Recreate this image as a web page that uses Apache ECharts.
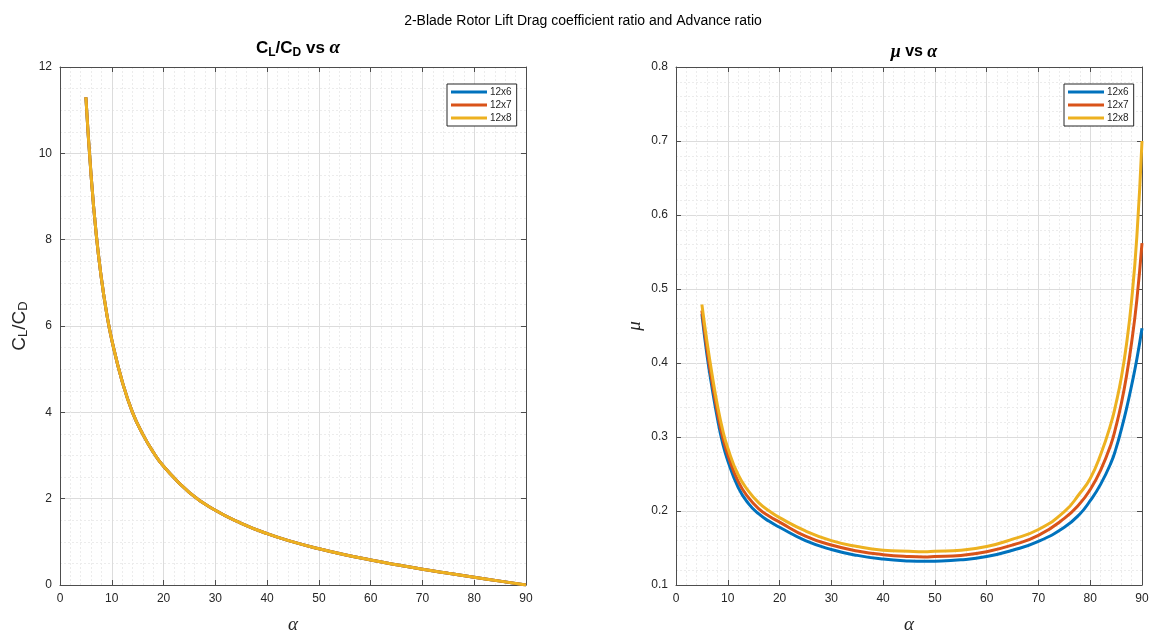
<!DOCTYPE html>
<html><head><meta charset="utf-8">
<script src="https://cdn.jsdelivr.net/npm/echarts@6/dist/echarts.min.js"></script>
<style>html,body{margin:0;padding:0;background:#fff}#c{width:1157px;height:639px}</style>
</head><body><div id="c"></div>
<script>
// ---- data ----
const seriesNames = ['12x6', '12x7', '12x8'];
const colors = ['#0072BD', '#D95319', '#EDB120'];
const xTicks = [0, 10, 20, 30, 40, 50, 60, 70, 80, 90];
const yTicksLeft = [0, 2, 4, 6, 8, 10, 12];
const yTicksRight = [0.1, 0.2, 0.3, 0.4, 0.5, 0.6, 0.7, 0.8];

const alphaL = [5, 6, 7, 8, 9, 10, 12, 14, 16, 18, 20, 25, 30, 35, 40, 45, 50, 55, 60, 65, 70, 75, 80, 85, 90];
const clcd   = [11.3, 9.5, 8.12, 7.1, 6.3, 5.68, 4.72, 4.0, 3.49, 3.08, 2.75, 2.14, 1.73, 1.43, 1.19, 1.0, 0.84, 0.70, 0.58, 0.47, 0.365, 0.27, 0.18, 0.09, 0.0];

const alphaR = [5, 6, 7, 8, 9, 10, 12, 14, 16, 18, 20, 25, 30, 35, 40, 45, 48, 50, 55, 60, 65, 70, 75, 78, 80, 82, 84, 85, 86, 87, 88, 89, 90];
const mu12x6 = [0.466, 0.41, 0.365, 0.325, 0.292, 0.268, 0.232, 0.210, 0.196, 0.186, 0.178, 0.160, 0.148, 0.140, 0.135, 0.1325, 0.132, 0.1322, 0.134, 0.1385, 0.147, 0.159, 0.178, 0.196, 0.214, 0.236, 0.265, 0.285, 0.31, 0.338, 0.37, 0.405, 0.447];
const mu12x7 = [0.471, 0.418, 0.373, 0.333, 0.300, 0.276, 0.240, 0.218, 0.203, 0.193, 0.185, 0.166, 0.154, 0.146, 0.141, 0.1385, 0.138, 0.1385, 0.140, 0.145, 0.154, 0.167, 0.190, 0.210, 0.229, 0.255, 0.29, 0.315, 0.345, 0.382, 0.428, 0.485, 0.562];
const mu12x8 = [0.479, 0.428, 0.383, 0.343, 0.310, 0.285, 0.249, 0.227, 0.211, 0.200, 0.191, 0.173, 0.160, 0.152, 0.147, 0.1455, 0.145, 0.1457, 0.147, 0.152, 0.162, 0.175, 0.199, 0.224, 0.244, 0.276, 0.318, 0.346, 0.38, 0.425, 0.485, 0.57, 0.70];
const muSeries = [mu12x6, mu12x7, mu12x8];

// ---- chart ----
const FONT = '"Liberation Sans", Arial, sans-serif';
const TXT = '#262626';
const AX = '#4d4d4d';
const chart = echarts.init(document.getElementById('c'), null, {renderer: 'canvas'});
const zip = (xs, ys) => xs.map((x, i) => [x, ys[i]]);

function mainX(grid, name) {
  return {
    type: 'value', gridIndex: grid, min: xTicks[0], max: xTicks[xTicks.length - 1], interval: 10,
    name: name, nameLocation: 'middle', nameGap: 30,
    nameTextStyle: {fontFamily: '"Liberation Serif", "DejaVu Serif", serif', fontStyle: 'italic', fontSize: 19, color: TXT},
    axisLine: {show: true, onZero: false, lineStyle: {color: AX, width: 1}},
    axisTick: {show: true, inside: true, length: 5, lineStyle: {color: AX}},
    axisLabel: {fontFamily: FONT, fontSize: 12, color: TXT, margin: 8},
    splitLine: {show: true, lineStyle: {color: '#dcdcdc', width: 1}},
    minorTick: {show: true, splitNumber: 5, length: 0},
    minorSplitLine: {show: true, lineStyle: {color: '#ececec', width: 1, type: [2, 2]}}
  };
}
function topX(grid) {
  return {
    type: 'value', gridIndex: grid, position: 'top', min: 0, max: 90, interval: 10,
    axisLine: {show: true, onZero: false, lineStyle: {color: AX}},
    axisTick: {show: true, inside: true, length: 5, lineStyle: {color: AX}},
    axisLabel: {show: false}, splitLine: {show: false}
  };
}
function mainY(grid, min, max, interval, minorSplit, name, fmt) {
  return {
    type: 'value', gridIndex: grid, min: min, max: max, interval: interval,
    name: name, nameLocation: 'middle', nameRotate: 90,
    axisLine: {show: true, onZero: false, lineStyle: {color: AX, width: 1}},
    axisTick: {show: true, inside: true, length: 5, lineStyle: {color: AX}},
    axisLabel: {fontFamily: FONT, fontSize: 12, color: TXT, margin: 8, formatter: fmt},
    splitLine: {show: true, lineStyle: {color: '#dcdcdc', width: 1}},
    minorTick: {show: true, splitNumber: minorSplit, length: 0},
    minorSplitLine: {show: true, lineStyle: {color: '#ececec', width: 1, type: [2, 2]}}
  };
}
function rightY(grid, min, max, interval) {
  return {
    type: 'value', gridIndex: grid, position: 'right', min: min, max: max, interval: interval,
    axisLine: {show: true, onZero: false, lineStyle: {color: AX}},
    axisTick: {show: true, inside: true, length: 5, lineStyle: {color: AX}},
    axisLabel: {show: false}, splitLine: {show: false}
  };
}

const yL = mainY(0, 0, 12, 2, 4, '{n|C}{ns|L}{n|/C}{ns|D}', v => String(v));
yL.nameGap = 30;
yL.nameTextStyle = {color: TXT, rich: {
  n: {fontFamily: FONT, fontSize: 19, color: TXT},
  ns: {fontFamily: FONT, fontSize: 13, color: TXT, padding: [8, 0, 0, 0]}
}};
const yR = mainY(1, 0.1, 0.8, 0.1, 5, 'μ', v => String(Math.round(v * 10) / 10));
yR.nameGap = 32;
yR.nameTextStyle = {fontFamily: '"Liberation Serif", "DejaVu Serif", serif', fontStyle: 'italic', fontSize: 19, color: TXT};

const series = [];
seriesNames.forEach((n, i) => {
  series.push({name: n, type: 'line', xAxisIndex: 0, yAxisIndex: 0, data: zip(alphaL, clcd),
    smooth: 0.5, showSymbol: false, symbol: 'none', lineStyle: {width: 3, color: colors[i]}, itemStyle: {color: colors[i]}, z: 3 + i});
});
seriesNames.forEach((n, i) => {
  series.push({name: n, type: 'line', xAxisIndex: 2, yAxisIndex: 2, data: zip(alphaR, muSeries[i]),
    smooth: 0.5, showSymbol: false, symbol: 'none', lineStyle: {width: 3, color: colors[i]}, itemStyle: {color: colors[i]}, z: 3 + i});
});

const legendBase = {
  data: seriesNames, orient: 'vertical', itemWidth: 36, itemHeight: 3, itemGap: 3,
  icon: 'rect', borderColor: '#262626', borderWidth: 1, backgroundColor: '#fff',
  padding: [3, 5, 3, 4], textStyle: {fontFamily: FONT, fontSize: 10, color: TXT, padding: [0, 0, 0, -2]}
};

const option = {
  animation: false,
  backgroundColor: '#fff',
  title: [
    {text: '2-Blade Rotor Lift Drag coefficient ratio and Advance ratio', left: 578, top: 9, textAlign: 'center',
     textStyle: {fontFamily: FONT, fontSize: 14, fontWeight: 'normal', color: '#000'}},
    {text: '{b|C}{bs|L}{b|/C}{bs|D}{b| vs }{g|α}', left: 293, top: 33, textAlign: 'center',
     textStyle: {rich: {
       b: {fontFamily: FONT, fontSize: 17, fontWeight: 'bold', color: '#000'},
       bs: {fontFamily: FONT, fontSize: 12, fontWeight: 'bold', color: '#000', padding: [9, 0, 0, 0]},
       g: {fontFamily: '"Liberation Serif", "DejaVu Serif", serif', fontStyle: 'italic', fontSize: 19, color: '#000'}
     }}},
    {text: '{g|μ}{b| vs }{g|α}', left: 909, top: 38, textAlign: 'center',
     textStyle: {rich: {
       b: {fontFamily: FONT, fontSize: 16, fontWeight: 'bold', color: '#000'},
       g: {fontFamily: '"Liberation Serif", "DejaVu Serif", serif', fontStyle: 'italic', fontSize: 18, color: '#000'}
     }}}
  ],
  legend: [
    Object.assign({}, legendBase, {left: 447, top: 84}),
    Object.assign({}, legendBase, {left: 1064, top: 84})
  ],
  grid: [
    {left: 60, top: 67, width: 466, height: 526},
    {left: 676, top: 67, width: 466, height: 526}
  ],
  xAxis: [mainX(0, 'α'), topX(0), mainX(1, 'α'), topX(1)],
  yAxis: [yL, rightY(0, 0, 12, 2), yR, rightY(1, 0.1, 0.8, 0.1)],
  series: series
};
chart.setOption(option);
</script>
</body></html>
